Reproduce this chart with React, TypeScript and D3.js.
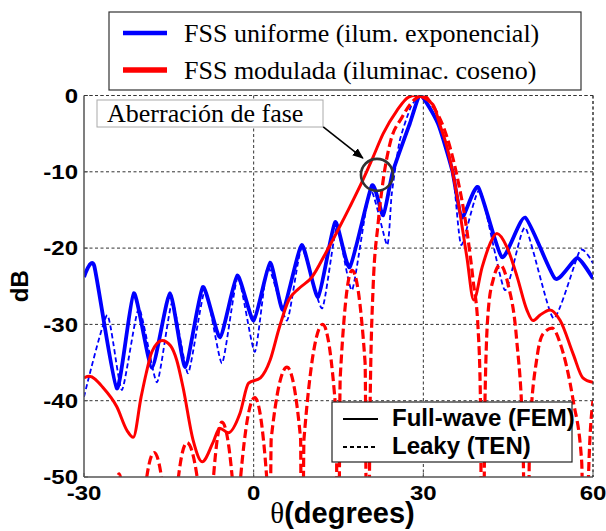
import React from 'react';
import * as d3 from 'd3';

// FSS uniforme, full-wave (FEM)
const blueFemTheta = [-30, -28.2, -24.2, -21.2, -18.0, -14.8, -12.1, -9.0, -5.95, -2.9, 0, 2.9, 5.2, 8.5, 11.4, 14.4, 17.0, 20.9, 22.9, 24.6, 27.6, 29.5, 32.6, 35.1, 36.8, 39.7, 43.9, 48.0, 53.3, 57.2, 60];
const blueFemDb = [-23.8, -22.3, -38.4, -25.9, -35.7, -25.9, -35.6, -25.1, -31.7, -23.6, -29.5, -21.9, -28.1, -19.6, -26.4, -16.6, -22.5, -11.8, -15.7, -10, -3.7, 0, -3.7, -9.8, -16.0, -12.0, -21.2, -16.0, -24.0, -21.3, -24.0];

// FSS uniforme, leaky (TEN)
const blueTenTheta = [-30, -25.9, -23.3, -20.3, -17.1, -14.4, -11.6, -8.6, -5.6, -2.8, 0.2, 2.5, 5.9, 8.5, 12.1, 14.7, 17.4, 20.6, 23.6, 24.4, 25.8, 27.8, 29.7, 32.5, 35.2, 36.7, 40, 44.4, 48, 53, 57.7, 60];
const blueTenDb = [-39.5, -28.8, -38.6, -27.9, -37.6, -27.1, -36.4, -25.5, -35.1, -23.8, -33.6, -22.5, -29.5, -20.0, -27.9, -17.3, -25.5, -12.4, -19.6, -13, -6, -1.5, 0, -3.5, -10, -19.6, -12.4, -25.5, -17.3, -29.2, -20.3, -22];

// FSS modulada, full-wave (FEM)
const redFemTheta = [-30, -29.1, -26.5, -24.2, -22.4, -21.3, -19.9, -19, -18, -16.2, -14.7, -13.6, -12.5, -10.7, -9.1, -7.2, -6, -4.5, -2.4, -0.9, 1.2, 2.9, 4.5, 6.2, 8, 10.3, 12.7, 15, 17, 19.3, 21.1, 22.9, 25.3, 27.4, 28.6, 31.7, 33, 34.2, 36, 37.7, 38.9, 40.4, 41.8, 43, 44.8, 46.6, 48.3, 49.4, 50.6, 52.4, 54.2, 56.5, 58.2, 60];
const redFemDb = [-37, -36.8, -38.4, -40.8, -43.9, -44.8, -39.5, -36.4, -33.6, -32.1, -32.8, -34.7, -38.2, -45.2, -48.0, -45.5, -43.6, -44.2, -41.6, -37.7, -37.0, -34.7, -30.5, -26.8, -25.3, -23.8, -20.7, -17.5, -14.6, -11.1, -8.1, -5.0, -2.0, -0.2, 0, -1.2, -4, -6.8, -13.3, -21.2, -26.8, -22.5, -19.4, -18.1, -19.9, -23.8, -28.1, -29.5, -28.8, -28.1, -29.5, -33.9, -37, -37.6];

// FSS modulada, leaky (TEN)
const redTenTheta = [-30, -24.9, -24.4, -23.8, -23.2, -22.7, -19.4, -18.9, -17.6, -16.3, -15.8, -13.7, -13.3, -11.8, -10.0, -9.6, -7.6, -7.1, -5.6, -3.8, -3.4, -2.8, -2.3, 0.2, 2.3, 2.75, 3.1, 5.9, 8.3, 8.5, 8.9, 12.2, 14.6, 14.9, 15.3, 17.4, 19.7, 20.1, 20.6, 21.1, 22, 22.9, 24.1, 26.2, 28.5, 30, 31.7, 34.2, 36, 37.7, 38.8, 39.7, 40.1, 40.45, 40.9, 41.5, 42.4, 43.6, 45, 46.5, 47.6, 48.3, 48.8, 50.1, 51.2, 52.8, 54.2, 56.5, 58.0, 58.6, 59.2, 60];
const redTenDb = [-80, -80, -52, -49.6, -52, -80, -80, -50, -46.8, -50, -80, -80, -50, -45.5, -50, -80, -80, -50, -42.8, -50, -80, -80, -50, -39.6, -50, -80, -45, -35.6, -45, -80, -45, -30, -42, -80, -37, -22.9, -35, -80, -40, -25.5, -16.8, -11.1, -6.3, -2.9, -0.5, 0, -1.4, -5.5, -10.7, -17.7, -24.2, -30.8, -40, -80, -40, -28, -24.0, -22.2, -24.8, -32, -45, -80, -45, -34.3, -31.2, -30.5, -32.5, -40, -48, -80, -50, -40];

const xTicks = [-30, 0, 30, 60];
const yTicks = [0, -10, -20, -30, -40, -50];

const legendTop = ['FSS uniforme (ilum. exponencial)', 'FSS modulada (iluminac. coseno)'];
const legendBottom = ['Full-wave (FEM)', 'Leaky (TEN)'];

const W = 606;
const H = 531;
const left = 84;
const right = 593;
const top = 95.5;
const bottom = 477;

const BLUE = '#0000ff';
const RED = '#ff0000';

const zip = (a: number[], b: number[]) => a.map((v, i) => [v, b[i]] as [number, number]);

export default function App() {
  const x = d3.scaleLinear().domain([-30, 60]).range([left, right]);
  const y = d3.scaleLinear().domain([-50, 0]).range([bottom, top]);
  const smooth = d3
    .line<[number, number]>()
    .x((d) => x(d[0]))
    .y((d) => y(d[1]))
    .curve(d3.curveMonotoneX);
  // blue lobes are more pointed at the nulls
  const sharp = d3
    .line<[number, number]>()
    .x((d) => x(d[0]))
    .y((d) => y(d[1]))
    .curve(d3.curveCardinal.tension(0.45));

  const sans = 'Liberation Sans, Arial, sans-serif';
  const serif = 'Liberation Serif, Times New Roman, serif';

  // annotation anchor points (data coords)
  const circ = { t: 21.8, db: -10.4 };
  const arrowFrom = { t: 12.3, db: -4.1 };
  const arrowTo = { t: 19.3, db: -8.2 };

  return (
    <svg width={W} height={H} style={{ position: 'absolute', left: 0, top: 0, background: '#fff' }}>
      <defs>
        <clipPath id='plot'>
          <rect x={left} y={top} width={right - left} height={bottom - top} />
        </clipPath>
        <marker id='arr' viewBox='0 0 10 10' refX='9' refY='5' markerWidth='7' markerHeight='7' orient='auto'>
          <path d='M0,1 L10,5 L0,9 z' fill='#000' />
        </marker>
      </defs>

      {/* grid */}
      <g stroke='#333' strokeWidth={1} strokeDasharray='3,2.5'>
        {xTicks.slice(1).map((t) => (
          <line key={'gx' + t} x1={x(t)} x2={x(t)} y1={top} y2={bottom} />
        ))}
        {yTicks.slice(0, -1).map((t) => (
          <line key={'gy' + t} x1={left} x2={right} y1={y(t)} y2={y(t)} />
        ))}
      </g>

      {/* curves */}
      <g clipPath='url(#plot)' fill='none' strokeLinejoin='round'>
        <path d={sharp(zip(blueFemTheta, blueFemDb)) || ''} stroke={BLUE} strokeWidth={3.8} />
        <path d={sharp(zip(blueTenTheta, blueTenDb)) || ''} stroke={BLUE} strokeWidth={1.8} strokeDasharray='5,3' />
        <path d={smooth(zip(redFemTheta, redFemDb)) || ''} stroke={RED} strokeWidth={3} />
        <path d={smooth(zip(redTenTheta, redTenDb)) || ''} stroke={RED} strokeWidth={3.2} strokeDasharray='9,4' />
      </g>

      {/* axes */}
      <line x1={left} x2={left} y1={top} y2={bottom} stroke='#555' strokeWidth={1.5} />
      <line x1={left} x2={right} y1={bottom} y2={bottom} stroke='#555' strokeWidth={1.5} />
      {yTicks.map((t) => (
        <line key={'ty' + t} x1={left} x2={left + 4} y1={y(t)} y2={y(t)} stroke='#555' />
      ))}
      {xTicks.map((t) => (
        <line key={'tx' + t} x1={x(t)} x2={x(t)} y1={bottom} y2={bottom - 4} stroke='#555' />
      ))}

      {yTicks.map((t) => (
        <text
          key={'ly' + t}
          transform={`translate(${left - 6},${y(t)}) scale(1.2,1)`}
          textAnchor='end'
          dy='0.36em'
          fontFamily={sans}
          fontWeight='bold'
          fontSize={20}
        >
          {t}
        </text>
      ))}
      {xTicks.map((t) => (
        <text
          key={'lx' + t}
          transform={`translate(${x(t)},${bottom + 23}) scale(1.2,1)`}
          textAnchor='middle'
          fontFamily={sans}
          fontWeight='bold'
          fontSize={20}
        >
          {t}
        </text>
      ))}

      <text
        transform={`translate(28,${(top + bottom) / 2}) rotate(-90)`}
        textAnchor='middle'
        fontFamily={sans}
        fontWeight='bold'
        fontSize={24}
      >
        dB
      </text>
      <text x={(left + right) / 2 + 4} y={523} textAnchor='middle' fontSize={29}>
        <tspan fontFamily={serif}>θ</tspan>
        <tspan fontFamily={sans} fontWeight='bold'>(degrees)</tspan>
      </text>

      {/* annotation */}
      <rect x={97} y={100} width={226} height={27} fill='#fff' stroke='#aaa' strokeWidth={1} />
      <text x={107} y={122} fontFamily={serif} fontSize={26}>
        Aberración de fase
      </text>
      <line
        x1={x(arrowFrom.t)}
        y1={y(arrowFrom.db)}
        x2={x(arrowTo.t)}
        y2={y(arrowTo.db)}
        stroke='#000'
        strokeWidth={1.6}
        markerEnd='url(#arr)'
      />
      <circle cx={x(circ.t)} cy={y(circ.db)} r={16} fill='none' stroke='#333' strokeWidth={2.6} />

      {/* top legend */}
      <rect x={109} y={12} width={472} height={78} fill='#fff' stroke='#333' strokeWidth={1.2} />
      <line x1={123} x2={167} y1={33} y2={33} stroke={BLUE} strokeWidth={4.5} />
      <line x1={123} x2={167} y1={70} y2={70} stroke={RED} strokeWidth={5.5} />
      <text x={184} y={42} fontFamily={serif} fontSize={26}>
        {legendTop[0]}
      </text>
      <text x={184} y={79} fontFamily={serif} fontSize={26}>
        {legendTop[1]}
      </text>

      {/* bottom legend */}
      <rect x={332} y={402} width={240} height={60} fill='#fff' stroke='#222' strokeWidth={1.2} />
      <line x1={343} x2={378} y1={419} y2={419} stroke='#000' strokeWidth={2} />
      <line x1={343} x2={378} y1={447} y2={447} stroke='#000' strokeWidth={2} strokeDasharray='4,3' />
      <text x={392} y={426} fontFamily={sans} fontWeight='bold' fontSize={24}>
        {legendBottom[0]}
      </text>
      <text x={392} y={454} fontFamily={sans} fontWeight='bold' fontSize={24}>
        {legendBottom[1]}
      </text>

      {/* dotted top and right border */}
      <g stroke='#333' strokeWidth={1} strokeDasharray='3,2.5'>
        <line x1={left} x2={right} y1={top} y2={top} />
        <line x1={right} x2={right} y1={top} y2={bottom} />
      </g>
    </svg>
  );
}
